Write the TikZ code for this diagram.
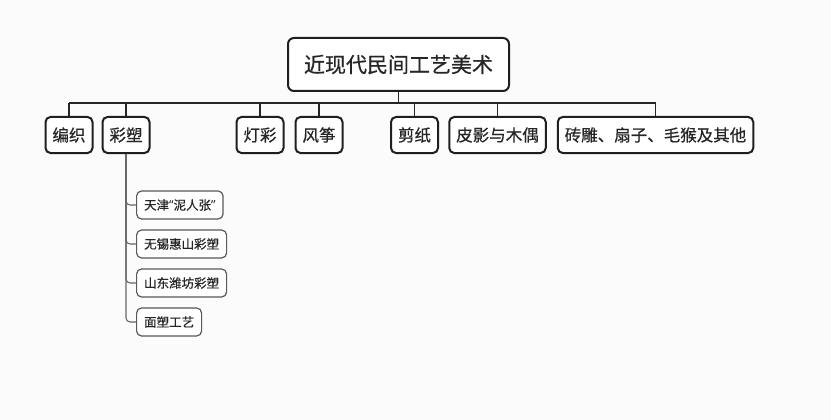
\documentclass[tikz,border=0pt]{standalone}
\usepackage{fontspec}
\setmainfont{Noto Sans CJK SC}[FakeBold=0.6]
\newfontfamily\latinq{Noto Sans}
\begin{document}
\begin{tikzpicture}[x=1pt,y=-1pt,
  rootbox/.style={draw=black!88,line width=2pt,rounded corners=6pt,fill=white,
    font=\fontsize{21}{24}\selectfont,text=black!85,inner xsep=16pt,minimum height=53pt},
  catbox/.style={draw=black!88,line width=2pt,rounded corners=5pt,fill=white,
    font=\fontsize{16.5}{19}\selectfont,text=black!85,inner xsep=7pt,minimum height=36pt},
  subbox/.style={draw=black!65,line width=1.2pt,rounded corners=5pt,fill=white,
    font=\fontsize{12.5}{15}\selectfont,text=black!85,inner xsep=7.5pt,minimum height=28pt,anchor=west},
  mainline/.style={draw=black!85,line width=1.8pt},
  subline/.style={draw=black!60,line width=1.1pt,rounded corners=4pt}]
\useasboundingbox[fill=black!1.5] (0,0) rectangle (831,420);

\node[rootbox] (root) at (398.5,64.5) {近现代民间工艺美术};

\node[catbox] (bianzhi) at (69,135) {编织};
\node[catbox] (caisu) at (126,135) {彩塑};
\node[catbox] (dengcai) at (260,135) {灯彩};
\node[catbox] (fengzheng) at (319,135) {风筝};
\node[catbox] (jianzhi) at (414.5,135) {剪纸};
\node[catbox] (piying) at (497.5,135) {皮影与木偶};
\node[catbox] (qita) at (655.5,135) {砖雕、扇子、毛猴及其他};

\coordinate (busL) at (69,103);
\coordinate (busR) at (655.5,103);
\draw[mainline] (busL) -- (busR);
\draw[mainline] (root.south) -- (root.south |- busL);
\foreach \n in {bianzhi,caisu,dengcai,fengzheng,jianzhi,piying,qita}
  \draw[mainline] (\n.north) -- (\n.north |- busL);

\node[subbox] (tianjin) at (136,205) {天津{\latinq “}泥人张{\latinq ”}};
\node[subbox] (wuxi) at (136,244) {无锡惠山彩塑};
\node[subbox] (shandong) at (136,283) {山东潍坊彩塑};
\node[subbox] (miansu) at (136,322) {面塑工艺};

\foreach \n in {tianjin,wuxi,shandong,miansu}
  \draw[subline] (caisu.south) |- (\n.west);
\end{tikzpicture}
\end{document}
